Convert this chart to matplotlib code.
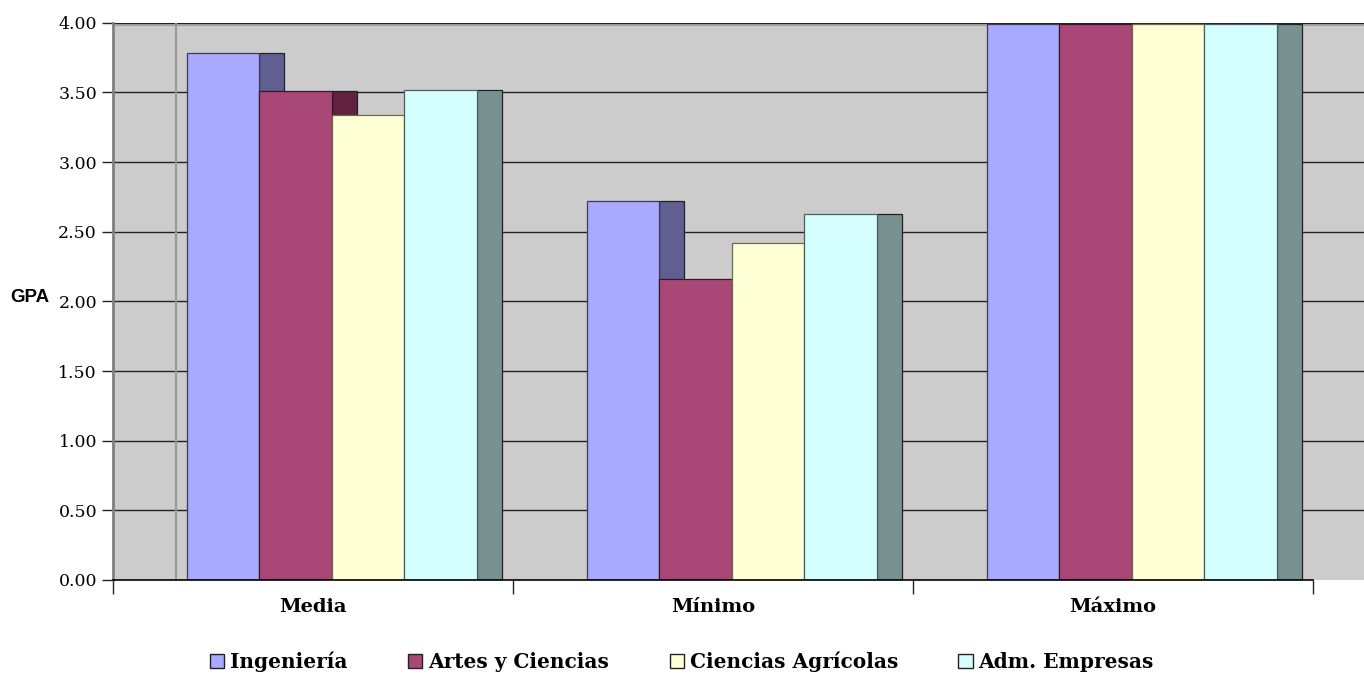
import numpy as np
import matplotlib.pyplot as plt
from matplotlib.patches import Rectangle, Patch

# data
categories = ["Media", "Mínimo", "Máximo"]
series = ["Ingeniería", "Artes y Ciencias", "Ciencias Agrícolas", "Adm. Empresas"]
ingenieria = [3.78, 2.72, 3.99]
artes = [3.51, 2.16, 3.99]
agricolas = [3.34, 2.42, 3.99]
empresas = [3.52, 2.63, 3.99]
yticks = [0.0, 0.5, 1.0, 1.5, 2.0, 2.5, 3.0, 3.5, 4.0]

values = [ingenieria, artes, agricolas, empresas]
front_colors = ["#A9A9FF", "#A94876", "#FFFFD5", "#D5FFFF"]
side_colors = ["#5F5F91", "#62213F", "#8F8F6A", "#7A9191"]
edge_colors = ["#3a3a5a", "#3a1526", "#6a6a50", "#4d5e5e"]

serif = "DejaVu Serif"

fig = plt.figure(figsize=(13.64, 6.77), dpi=100)
W, H = 1364, 677
ax = fig.add_axes([113 / W, (677 - 580) / H, (1364 - 113) / W, (580 - 22.7) / H])
ax.set_facecolor("#CCCCCC")

# geometry in category units (1 category = 400 px)
offset = 0.185
bar_w = 0.181
depth = 0.0625
wall = 0.1575

ax.set_xlim(0, 1251 / 400)
ax.set_ylim(0, 4.0)

for y in yticks[1:]:
    ax.axhline(y, color="#222222", lw=1.0, zorder=1)
ax.axvline(wall, color="#999999", lw=1.5, zorder=1)
ax.axhline(3.985, color="#999999", lw=1.2, zorder=1)

for c in range(len(categories)):
    for s in range(len(series)):
        x0 = c + offset + s * bar_w
        v = values[s][c]
        ax.add_patch(Rectangle((x0 + bar_w, 0), depth, v, facecolor=side_colors[s],
                               edgecolor="#222222", lw=0.9, zorder=2))
        ax.add_patch(Rectangle((x0, 0), bar_w, v, facecolor=front_colors[s],
                               edgecolor=edge_colors[s], lw=0.9, zorder=2))

ax.set_yticks(yticks)
ax.set_yticklabels([f"{t:.2f}" for t in yticks], fontsize=12.5, family=serif)
ax.tick_params(axis="y", length=8, width=1, pad=3.5, color="#222222")

ax.set_xticks([0, 1, 2, 3])
ax.set_xticklabels([])
ax.set_xticks([i + 0.5 for i in range(len(categories))], minor=True)
ax.set_xticklabels(categories, minor=True, fontsize=14, fontweight="bold", family=serif)
ax.tick_params(axis="x", which="major", length=10, width=1, color="#222222")
ax.tick_params(axis="x", which="minor", length=0, pad=13)

ax.spines["top"].set_visible(False)
ax.spines["right"].set_visible(False)
ax.spines["left"].set_color("#808080")
ax.spines["left"].set_linewidth(2)
ax.spines["bottom"].set_bounds(0, 3)
ax.spines["bottom"].set_linewidth(1.2)

fig.text(10 / W, 1 - 297 / H, "GPA", fontsize=13.5, fontweight="bold",
         family="Liberation Sans", va="center", ha="left")

handles = [Patch(facecolor=front_colors[i], edgecolor="#222222", lw=1) for i in range(len(series))]
fig.legend(handles, series, loc="center", bbox_to_anchor=(0.5, 1 - 662 / H), ncol=4,
           frameon=False, prop={"family": serif, "weight": "bold", "size": 14.5},
           handlelength=0.7, handleheight=0.7, handletextpad=0.3, columnspacing=3.0)

fig.savefig("out.png", dpi=100)
